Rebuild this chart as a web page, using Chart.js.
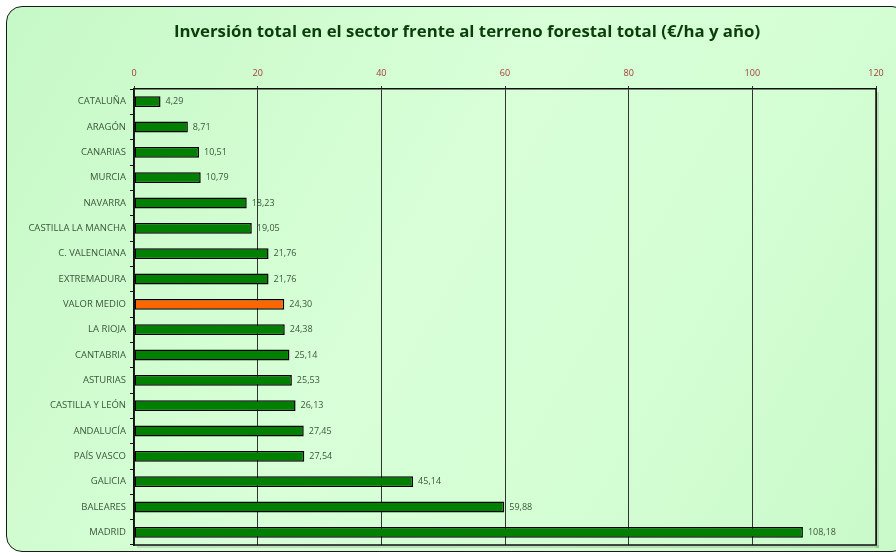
<!DOCTYPE html>
<html><head><meta charset="utf-8">
<script src="https://cdn.jsdelivr.net/npm/chart.js@4.4.1/dist/chart.umd.min.js"></script>
<style>
html,body{margin:0;padding:0;background:#fff;width:896px;height:556px;overflow:hidden;}
#card{position:absolute;left:6px;top:6px;width:900px;height:544px;border:1.5px solid #1a1a1a;border-radius:16px;
background:linear-gradient(120deg,#c6f8c6 0%,#d8ffd8 45%,#d4fed4 70%,#c8f9c8 100%);}
#c{position:absolute;left:0;top:0;}
</style></head>
<body>
<div id="card"></div>
<canvas id="c" width="896" height="556"></canvas>
<script>
const categories = ["CATALUÑA","ARAGÓN","CANARIAS","MURCIA","NAVARRA","CASTILLA LA MANCHA","C. VALENCIANA","EXTREMADURA","VALOR MEDIO","LA RIOJA","CANTABRIA","ASTURIAS","CASTILLA Y LEÓN","ANDALUCÍA","PAÍS VASCO","GALICIA","BALEARES","MADRID"];
const values = [4.29,8.71,10.51,10.79,18.23,19.05,21.76,21.76,24.30,24.38,25.14,25.53,26.13,27.45,27.54,45.14,59.88,108.18];
const highlight = "VALOR MEDIO";
const titleText = "Inversión total en el sector frente al terreno forestal total (€/ha y año)";

const FONT = "'Open Sans', 'Noto Sans', sans-serif";
const barColors = categories.map(c => c === highlight ? "#ff6600" : "#008000");

const valueLabels = {
  id: 'valueLabels',
  afterDatasetsDraw(chart) {
    const ctx = chart.ctx;
    const meta = chart.getDatasetMeta(0);
    ctx.save();
    ctx.font = "9px " + FONT;
    ctx.fillStyle = "#3a553a";
    ctx.textAlign = "left";
    ctx.textBaseline = "middle";
    meta.data.forEach((el, i) => {
      const txt = values[i].toFixed(2).replace('.', ',');
      ctx.fillText(txt, el.x + 5, el.y);
    });
    ctx.restore();
  }
};
const frame = {
  id: 'frame',
  beforeDraw(chart) {
    const {ctx, chartArea:a} = chart;
    ctx.save();
    ctx.fillStyle = "rgba(0,0,0,0.12)";
    ctx.fillRect(a.left + 3, a.bottom, a.right - a.left, 3);
    ctx.fillRect(a.right, a.top + 3, 3, a.bottom - a.top);
    ctx.restore();
  },
  afterDraw(chart) {
    const {ctx, chartArea:a} = chart;
    ctx.save();
    ctx.strokeStyle = "#111";
    ctx.lineWidth = 1.5;
    ctx.beginPath();
    ctx.moveTo(a.left, a.bottom); ctx.lineTo(a.right, a.bottom); ctx.lineTo(a.right, a.top);
    ctx.stroke();
    ctx.font = "bold 16.8px " + FONT;
    ctx.fillStyle = "#0b3d0b";
    ctx.textAlign = "center";
    ctx.textBaseline = "middle";
    ctx.fillText(titleText, 467, 32);
    ctx.restore();
  }
};

new Chart(document.getElementById('c'), {
  type: 'bar',
  data: {
    labels: categories,
    datasets: [{
      data: values,
      backgroundColor: barColors,
      borderColor: "#000",
      borderWidth: 1.5,
      borderSkipped: false,
      barPercentage: 0.43,
      categoryPercentage: 1
    }]
  },
  options: {
    indexAxis: 'y',
    responsive: false,
    animation: false,
    devicePixelRatio: 1,
    layout: { padding: { left: 10, right: 20, top: 50, bottom: 11 } },
    plugins: {
      legend: { display: false },
      tooltip: { enabled: false },
      title: { display: false }
    },
    scales: {
      x: {
        position: 'top',
        min: 0, max: 120,
        ticks: { stepSize: 20, color: "#a33a3a", font: { family: FONT, size: 9 }, padding: 7 },
        grid: { color: "#333", lineWidth: 1, drawTicks: true, tickLength: 3 },
        border: { display: true, color: "#111", width: 1.5 },
        afterFit(s) { s.height = 39; }
      },
      y: {
        ticks: { color: "#3a553a", font: { family: FONT, size: 9.5 }, padding: 4, autoSkip: false },
        grid: { offset: true, drawOnChartArea: false, drawTicks: true, tickLength: 4, color: "#111", lineWidth: 1 },
        border: { display: true, color: "#111", width: 1.5 },
        afterFit(s) { s.width = 124; }
      }
    }
  },
  plugins: [valueLabels, frame]
});
</script>
</body></html>
